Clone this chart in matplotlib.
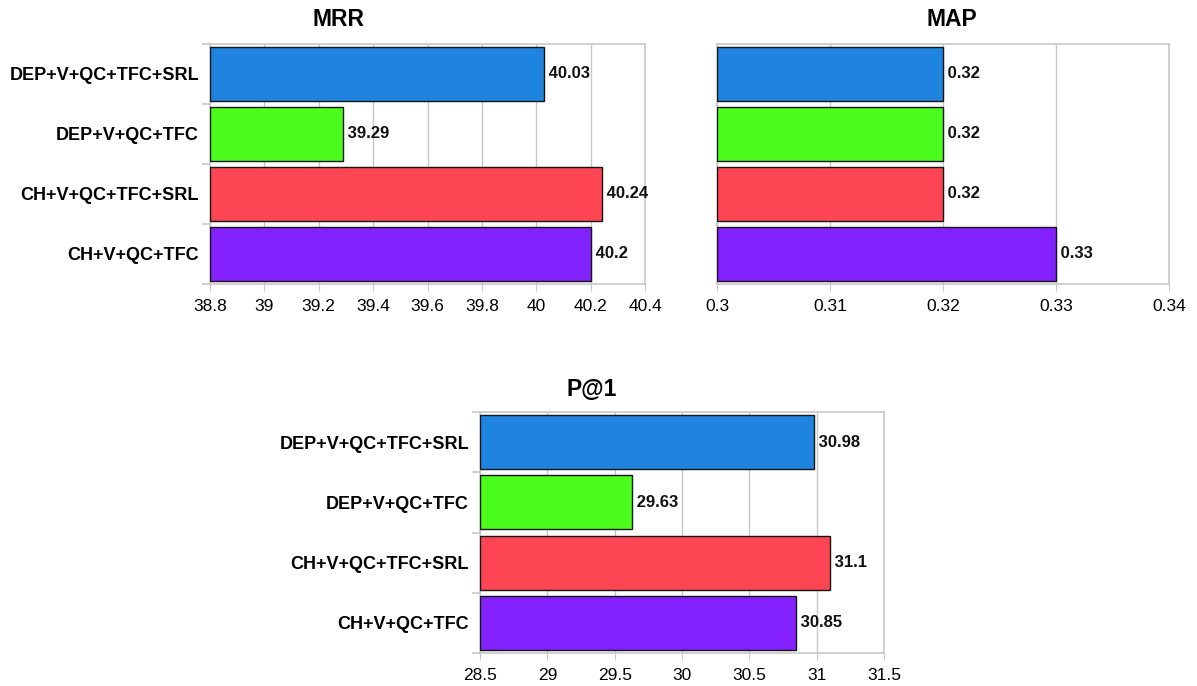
import matplotlib
matplotlib.use("Agg")
import matplotlib.pyplot as plt

plt.rcParams['font.family'] = ['Liberation Sans', 'DejaVu Sans']

# Systems, top to bottom
systems = ["DEP+V+QC+TFC+SRL", "DEP+V+QC+TFC", "CH+V+QC+TFC+SRL", "CH+V+QC+TFC"]
bar_colors = ["#1f83e0", "#4cfc1c", "#fe4553", "#8322fe"]

mrr_values = [40.03, 39.29, 40.24, 40.2]
map_values = [0.32, 0.32, 0.32, 0.33]
p1_values = [30.98, 29.63, 31.1, 30.85]

mrr_ticks = [38.8, 39, 39.2, 39.4, 39.6, 39.8, 40, 40.2, 40.4]
map_ticks = [0.3, 0.31, 0.32, 0.33, 0.34]
p1_ticks = [28.5, 29, 29.5, 30, 30.5, 31, 31.5]

W, H = 1197, 686
fig = plt.figure(figsize=(W / 100, H / 100), dpi=100)


def px_axes(x0, x1, y0, y1):
    return fig.add_axes([x0 / W, 1 - y1 / H, (x1 - x0) / W, (y1 - y0) / H])


GRID = "#c8c8c8"


def draw_panel(ax, values, ticks, show_labels):
    n = len(values)
    ypos = list(range(n))[::-1]
    ax.barh(ypos, [v - ticks[0] for v in values], left=ticks[0], height=0.9,
            color=bar_colors, edgecolor="#151515", linewidth=1.0, zorder=3)
    for y, v in zip(ypos, values):
        ax.text(v, y, f" {v:g}", ha="left", va="center", fontsize=12,
                fontweight="bold", color="#111111", zorder=4)
    ax.set_xlim(ticks[0], ticks[-1])
    ax.set_ylim(-0.5, n - 0.5)
    ax.set_xticks(ticks)
    ax.set_xticklabels([f"{t:g}" for t in ticks], fontsize=12.5)
    ax.xaxis.grid(True, color=GRID, linewidth=1.0, zorder=0)
    ax.set_axisbelow(True)
    for s in ax.spines.values():
        s.set_color(GRID)
        s.set_linewidth(1.2)
    ax.tick_params(axis="x", length=5, color=GRID, pad=6)
    if show_labels:
        ax.set_yticks(ypos)
        ax.set_yticklabels(systems, fontsize=13, fontweight="bold")
        ax.set_yticks([y - 0.5 for y in range(n + 1)], minor=True)
        ax.tick_params(axis="y", which="major", length=0, pad=8)
        ax.tick_params(axis="y", which="minor", length=6, color=GRID, width=1.2)
    else:
        ax.set_yticks([])


ax_mrr = px_axes(210, 645, 44, 284)
draw_panel(ax_mrr, mrr_values, mrr_ticks, True)

ax_map = px_axes(717, 1169, 44, 284)
draw_panel(ax_map, map_values, map_ticks, False)

ax_p1 = px_axes(480, 884, 412, 653)
draw_panel(ax_p1, p1_values, p1_ticks, True)

fig.text(339 / W, 1 - 20 / H, "MRR", ha="center", va="center", fontsize=16.5, fontweight="bold")
fig.text(952 / W, 1 - 20 / H, "MAP", ha="center", va="center", fontsize=16.5, fontweight="bold")
fig.text(592 / W, 1 - 389 / H, "P@1", ha="center", va="center", fontsize=16.5, fontweight="bold")

fig.savefig("out.png", dpi=100)
